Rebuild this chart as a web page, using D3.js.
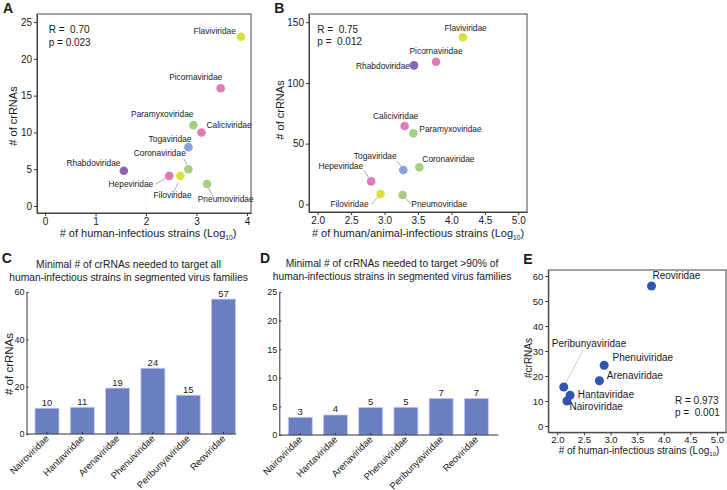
<!DOCTYPE html>
<html>
<head>
<meta charset="utf-8">
<script src="https://cdn.jsdelivr.net/npm/d3@7"></script>
<style>
body { margin: 0; background: #fff; }
text { font-family: "Liberation Sans", Arial, Helvetica, sans-serif; fill: #1a1a1a; }
.axis path, .axis line { stroke: #333; }
</style>
</head>
<body>
<div id="fig"></div>
<script>
// non-segmented families (panels A, B)
var families = ["Flaviviridae","Picornaviridae","Paramyxoviridae","Caliciviridae","Togaviridae",
                "Coronaviridae","Rhabdoviridae","Hepeviridae","Filoviridae","Pneumoviridae"];
var familyGroup = ["yellow","pink","green","pink","blue","green","purple","pink","yellow","green"];
var humanStrains = [3.88, 3.48, 2.94, 3.10, 2.84, 2.84, 1.56, 2.46, 2.68, 3.21];
var humanCrRNAs  = [23, 16, 11, 10, 8, 5, 4.8, 4.1, 4.1, 3];
var animalStrains = [4.17, 3.77, 3.43, 3.30, 3.28, 3.52, 3.44, 2.80, 2.94, 3.27];
var animalCrRNAs  = [137.6, 117.5, 58.5, 64.5, 28.3, 30.5, 114.5, 18.9, 8.5, 7.7];

// segmented families (panels C, D, E)
var segFamilies = ["Nairoviridae","Hantaviridae","Arenaviridae","Phenuiviridae","Peribunyaviridae","Reoviridae"];
var allBars   = [10.9, 11.3, 19.4, 27.8, 16.4, 57];
var allLabels = ["10","11","19","24","15","57"];
var p90Bars   = [3.1, 3.5, 4.8, 4.85, 6.4, 6.4];
var p90Labels = ["3","4","5","5","7","7"];
var segStrains = [2.18, 2.24, 2.79, 2.88, 2.12, 3.77];
var segCrRNAs  = [10, 12.3, 18.1, 24.3, 15.6, 56];

// ticks
var ticksA_x = [0,1,2,3,4], ticksA_y = [0,5,10,15,20,25];
var ticksB_x = [2,2.5,3,3.5,4,4.5,5], ticksB_y = [0,50,100,150];
var ticksC_y = [0,20,40,60], ticksD_y = [0,5,10,15,20,25];
var ticksE_x = [2,2.5,3,3.5,4,4.5,5], ticksE_y = [0,10,20,30,40,50,60];

var groupColor = d3.scaleOrdinal()
  .domain(["yellow","pink","green","blue","purple"])
  .range(["#dcdf3c","#e07cb5","#a6cf80","#8d9fe0","#8866b2"]);

// label placement: dx, dy, anchor, optional leader line (relative to the point)
var labA = {
  Flaviviridae: [-5, -2.5, "end"],
  Picornaviridae: [-25, -8, "middle"],
  Paramyxoviridae: [0, -8, "end"],
  Caliciviridae: [5, -4.6, "start"],
  Togaviridae: [3, -5.4, "end"],
  Coronaviridae: [-2.6, -13, "end", [-4.3,-10,-1.6,-4.3]],
  Rhabdoviridae: [-3.3, -5, "end"],
  Hepeviridae: [-16, 11.3, "end", [-13.3,8,-3.6,2.3]],
  Filoviridae: [-7.8, 22.3, "middle", [-7,16.7,-2,6.7]],
  Pneumoviridae: [-9.3, 17.7, "start", [1.7,4.3,6,12.7]]
};
var labB = {
  Flaviviridae: [2.8, -6.6, "middle"],
  Picornaviridae: [0, -7.7, "middle"],
  Rhabdoviridae: [-4, 3.7, "end"],
  Caliciviridae: [-9, -7, "middle"],
  Paramyxoviridae: [6, -1.6, "start"],
  Togaviridae: [-6.6, -11.3, "end", [-6.6,-9,-1.6,-3.3]],
  Coronaviridae: [3, -5, "start"],
  Hepeviridae: [-8, -12.3, "end", [-7,-11,-2.5,-4]],
  Filoviridae: [-12, 13.3, "end", [-9,10,-3,3.3]],
  Pneumoviridae: [8.7, 12.3, "start", [3,3,8,9]]
};
var labE = {
  Reoviridae: [1, -7, "start"],
  Phenuiviridae: [8.4, -4, "start"],
  Arenaviridae: [7.4, -1.4, "start"],
  Peribunyaviridae: [-12, -39.7, "start", [19.6,-37,1.3,-3]],
  Hantaviridae: [7.7, 2.7, "start"],
  Nairoviridae: [2.6, 9, "start"]
};

var svg = d3.select("#fig").append("svg")
  .attr("width", 727)
  .attr("height", 490);

function panelLetter(letter, x, y) {
  svg.append("text").attr("x", x).attr("y", y)
    .style("font-size", "14px").style("font-weight", "bold")
    .text(letter);
}

function logLabel(g, x, y, main, size) {
  var t = g.append("text").attr("x", x).attr("y", y)
    .attr("text-anchor", "middle").style("font-size", size + "px");
  t.append("tspan").text(main + " (Log");
  t.append("tspan").attr("dy", 2.5).style("font-size", (size * 0.6) + "px").text("10");
  t.append("tspan").attr("dy", -2.5).text(")");
}

function yLabel(g, x, y, txt, size) {
  g.append("text")
    .attr("transform", "translate(" + x + "," + y + ") rotate(-90)")
    .attr("text-anchor", "middle")
    .style("font-size", size + "px")
    .text(txt);
}

// framed scatter plot (A, B, E)
function scatter(cfg) {
  var x = d3.scaleLinear().domain(cfg.xDomain).range([cfg.left, cfg.right]);
  var y = d3.scaleLinear().domain(cfg.yDomain).range([cfg.bottom, cfg.top]);
  var g = svg.append("g");

  g.append("g").attr("class", "axis")
    .attr("transform", "translate(0," + cfg.bottom + ")")
    .call(d3.axisBottom(x).tickValues(cfg.xTicks).tickFormat(cfg.xFormat)
      .tickSize(3).tickSizeOuter(0).tickPadding(cfg.xPad))
    .style("font-size", cfg.tickFont + "px");
  g.append("g").attr("class", "axis")
    .attr("transform", "translate(" + cfg.left + ",0)")
    .call(d3.axisLeft(y).tickValues(cfg.yTicks).tickSize(3).tickSizeOuter(0).tickPadding(2))
    .style("font-size", cfg.tickFont + "px");

  g.append("rect")
    .attr("x", cfg.left).attr("y", cfg.top)
    .attr("width", cfg.right - cfg.left).attr("height", cfg.bottom - cfg.top)
    .attr("fill", "none").attr("stroke", "#444").attr("stroke-width", 1);

  var pts = cfg.names.map(function(n, i) {
    return {name: n, px: x(cfg.xs[i]), py: y(cfg.ys[i]), color: cfg.colors[i], lab: cfg.labels[n]};
  });

  g.selectAll(".leader")
    .data(pts.filter(function(d) { return d.lab[3]; }))
    .enter().append("line")
      .attr("x1", function(d) { return d.px + d.lab[3][0]; })
      .attr("y1", function(d) { return d.py + d.lab[3][1]; })
      .attr("x2", function(d) { return d.px + d.lab[3][2]; })
      .attr("y2", function(d) { return d.py + d.lab[3][3]; })
      .attr("stroke", cfg.leaderColor).attr("stroke-width", 0.7);

  g.selectAll("circle")
    .data(pts)
    .enter().append("circle")
      .attr("cx", function(d) { return d.px; })
      .attr("cy", function(d) { return d.py; })
      .attr("r", cfg.r)
      .attr("fill", function(d) { return d.color; });

  g.selectAll(".ptlab")
    .data(pts)
    .enter().append("text")
      .attr("x", function(d) { return d.px + d.lab[0]; })
      .attr("y", function(d) { return d.py + d.lab[1]; })
      .attr("text-anchor", function(d) { return d.lab[2]; })
      .style("font-size", cfg.labFont + "px")
      .text(function(d) { return d.name; });

  cfg.stats.forEach(function(s, i) {
    g.append("text").attr("x", cfg.statX).attr("y", cfg.statY + i * cfg.statGap)
      .style("font-size", cfg.statFont + "px").style("white-space", "pre")
      .text(s);
  });

  logLabel(g, cfg.xLabX, cfg.xLabY, cfg.xLabel, cfg.axisFont);
  yLabel(g, cfg.yLabX, cfg.yLabY, cfg.yLabel, cfg.axisFont);
}

// bar chart (C, D)
function bars(cfg) {
  var x = d3.scaleBand().domain(segFamilies).range([cfg.x0, cfg.x1])
    .paddingInner(0.32).paddingOuter(0);
  var y = d3.scaleLinear().domain(cfg.yDomain).range([cfg.bottom, cfg.top]);
  var g = svg.append("g");

  cfg.title.forEach(function(t, i) {
    g.append("text").attr("x", cfg.titleX).attr("y", cfg.titleY + i * 12.4)
      .attr("text-anchor", "middle").style("font-size", "10.3px").text(t);
  });

  g.selectAll("rect")
    .data(cfg.values)
    .enter().append("rect")
      .attr("x", function(d, i) { return x(segFamilies[i]); })
      .attr("y", function(d) { return y(d); })
      .attr("width", x.bandwidth())
      .attr("height", function(d) { return y(0) - y(d); })
      .attr("fill", "#6b7ec2")
      .attr("stroke", "#c3cbee").attr("stroke-width", 0.8);

  g.selectAll(".vlab")
    .data(cfg.values)
    .enter().append("text")
      .attr("x", function(d, i) { return x(segFamilies[i]) + x.bandwidth() / 2; })
      .attr("y", function(d) { return y(d) - 2.5; })
      .attr("text-anchor", "middle")
      .style("font-size", "9.5px")
      .text(function(d, i) { return cfg.labels[i]; });

  g.append("g").attr("class", "axis")
    .attr("transform", "translate(" + cfg.axisX + ",0)")
    .call(d3.axisLeft(y).tickValues(cfg.yTicks).tickSize(-2).tickSizeOuter(0).tickPadding(2))
    .style("font-size", "9px");

  // x axis: line, inward ticks, rotated names
  g.append("line")
    .attr("x1", cfg.axisX).attr("x2", cfg.axisEnd)
    .attr("y1", y(0)).attr("y2", y(0))
    .attr("stroke", "#333");
  g.selectAll(".xt")
    .data(segFamilies)
    .enter().append("line")
      .attr("x1", function(d) { return x(d) + x.bandwidth() / 2; })
      .attr("x2", function(d) { return x(d) + x.bandwidth() / 2; })
      .attr("y1", y(0)).attr("y2", y(0) - 2)
      .attr("stroke", "#333");
  g.selectAll(".xl")
    .data(segFamilies)
    .enter().append("text")
      .attr("transform", function(d) {
        return "translate(" + (x(d) + x.bandwidth() / 2 + 2.5) + "," + (y(0) + 5) + ") rotate(-45)";
      })
      .attr("text-anchor", "end")
      .style("font-size", "9.5px")
      .text(function(d) { return d; });

  if (cfg.yLabel) yLabel(g, cfg.yLabX, cfg.yLabY, cfg.yLabel, 11.5);
}

// A
panelLetter("A", 3, 12.7);
scatter({
  names: families, xs: humanStrains, ys: humanCrRNAs,
  colors: familyGroup.map(function(c) { return groupColor(c); }),
  labels: labA,
  xDomain: [-0.16, 4.08], yDomain: [-0.95, 26.1],
  left: 37, right: 251, top: 14, bottom: 213,
  xTicks: ticksA_x, yTicks: ticksA_y, xFormat: d3.format("d"), xPad: 2,
  tickFont: 10, labFont: 8.4, statFont: 10, axisFont: 11, r: 4.3,
  leaderColor: "#888",
  stats: ["R =  0.70", "p = 0.023"], statX: 48.7, statY: 33.3, statGap: 12.4,
  xLabel: "# of human-infectious strains", xLabX: 148, xLabY: 237,
  yLabel: "# of crRNAs", yLabX: 16.5, yLabY: 116
});

// B
panelLetter("B", 274.3, 12.7);
scatter({
  names: families, xs: animalStrains, ys: animalCrRNAs,
  colors: familyGroup.map(function(c) { return groupColor(c); }),
  labels: labB,
  xDomain: [1.87, 5.13], yDomain: [-6.3, 156.8],
  left: 309, right: 527, top: 14, bottom: 212,
  xTicks: ticksB_x, yTicks: ticksB_y, xFormat: d3.format(".1f"), xPad: 2,
  tickFont: 10, labFont: 8.4, statFont: 10, axisFont: 11, r: 4.3,
  leaderColor: "#888",
  stats: ["R =  0.75", "p =  0.012"], statX: 317.3, statY: 33.3, statGap: 12,
  xLabel: "# of human/animal-infectious strains", xLabX: 418, xLabY: 237,
  yLabel: "# of crRNAs", yLabX: 284, yLabY: 110
});

// C
panelLetter("C", 1.7, 262.7);
bars({
  values: allBars, labels: allLabels,
  title: ["Minimal # of crRNAs needed to target all",
          "human-infectious strains in segmented virus families"],
  titleX: 128.5, titleY: 268.3,
  x0: 35, x1: 235.5, axisX: 26.5, axisEnd: 236,
  yDomain: [0, 60], top: 292, bottom: 434, yTicks: ticksC_y,
  yLabel: "# of crRNAs", yLabX: 13, yLabY: 364
});

// D
panelLetter("D", 260, 263.3);
bars({
  values: p90Bars, labels: p90Labels,
  title: ["Minimal # of crRNAs needed to target >90% of",
          "human-infectious strains in segmented virus families"],
  titleX: 392, titleY: 267.3,
  x0: 288.3, x1: 488.3, axisX: 279.3, axisEnd: 498.3,
  yDomain: [0, 25], top: 292, bottom: 435, yTicks: ticksD_y
});

// E
panelLetter("E", 523.3, 264);
scatter({
  names: segFamilies, xs: segStrains, ys: segCrRNAs,
  colors: segFamilies.map(function() { return "#3156b0"; }),
  labels: labE,
  xDomain: [1.83, 5.17], yDomain: [-2.5, 62.4],
  left: 548.3, right: 726, top: 270, bottom: 432.3,
  xTicks: ticksE_x, yTicks: ticksE_y, xFormat: d3.format(".1f"), xPad: 1,
  tickFont: 9.5, labFont: 10, statFont: 10, axisFont: 10, r: 4.5,
  leaderColor: "#bbb",
  stats: ["R = 0.973", "p =  0.001"], statX: 675, statY: 404, statGap: 12,
  xLabel: "# of human-infectious strains", xLabX: 639, xLabY: 453.5,
  yLabel: "#crRNAs", yLabX: 532, yLabY: 358
});
</script>
</body>
</html>
